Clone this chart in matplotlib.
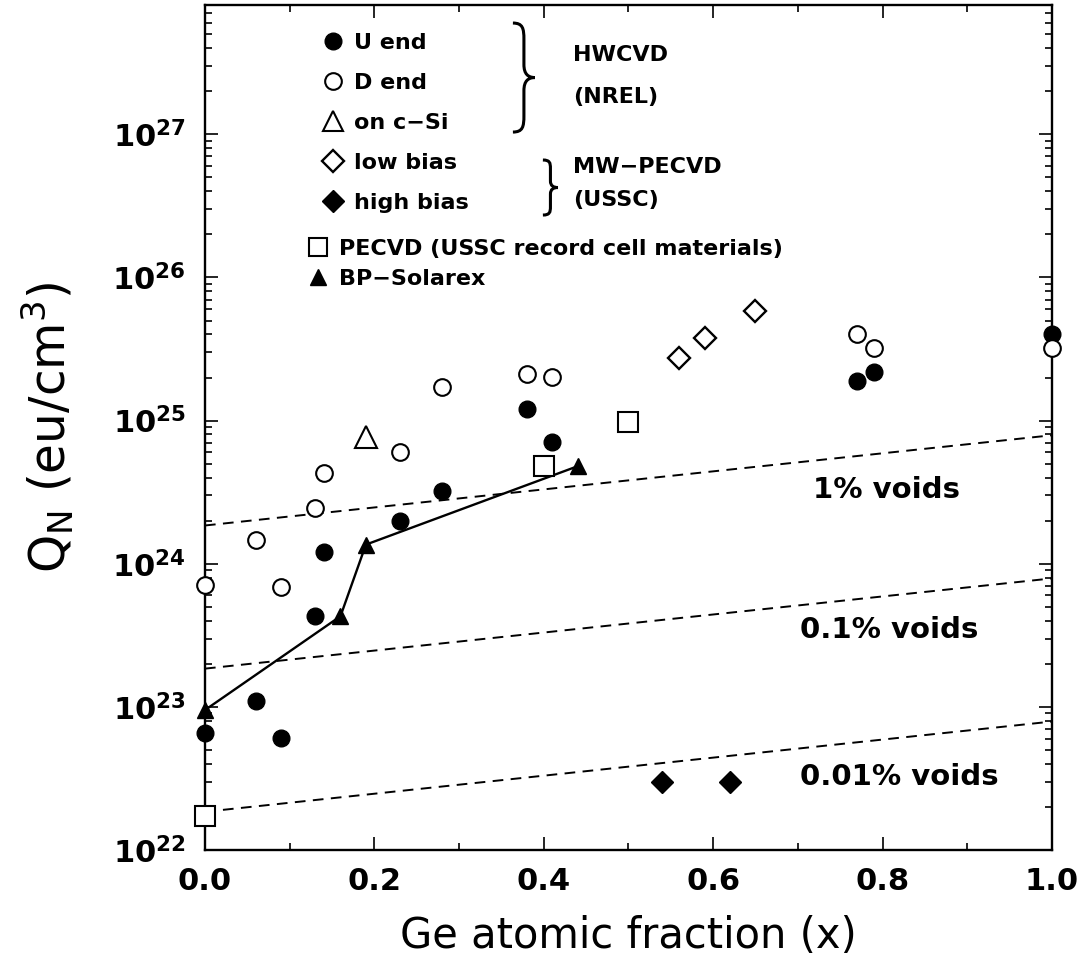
import numpy as np
import matplotlib
matplotlib.use("Agg")
import matplotlib.pyplot as plt
from matplotlib.ticker import LogLocator, MultipleLocator, FormatStrFormatter, NullFormatter
from matplotlib.lines import Line2D
from matplotlib.path import Path
from matplotlib.patches import PathPatch

plt.rcParams['font.family'] = ['DejaVu Sans']

# --- data ---
x_u_end = [0.0, 0.06, 0.09, 0.13, 0.14, 0.23, 0.28, 0.38, 0.41, 0.77, 0.79, 1.0]
q_u_end = [6.6e22, 1.1e23, 6.1e22, 4.3e23, 1.2e24, 2.0e24, 3.2e24, 1.2e25, 7.1e24, 1.9e25, 2.2e25, 4.0e25]

x_d_end = [0.0, 0.06, 0.09, 0.13, 0.14, 0.23, 0.28, 0.38, 0.41, 0.77, 0.79, 1.0]
q_d_end = [7.1e23, 1.47e24, 6.9e23, 2.45e24, 4.3e24, 6.0e24, 1.73e25, 2.13e25, 2.03e25, 4.0e25, 3.2e25, 3.2e25]

x_csi = [0.19]
q_csi = [7.7e24]

x_low_bias = [0.56, 0.59, 0.65]
q_low_bias = [2.75e25, 3.8e25, 5.8e25]

x_high_bias = [0.54, 0.62]
q_high_bias = [3.0e22, 3.0e22]

x_pecvd = [0.0, 0.40, 0.50]
q_pecvd = [1.73e22, 4.8e24, 9.7e24]

x_bp = [0.0, 0.16, 0.19, 0.44]
q_bp = [9.5e22, 4.3e23, 1.36e24, 4.8e24]

x_voids = [0.0, 1.0]
q_voids_1 = [1.85e24, 7.9e24]
q_voids_01 = [1.85e23, 7.9e23]
q_voids_001 = [1.85e22, 7.9e22]


def brace(ax, x0, x1, ytop, ybot, lw=2.2):
    # curly brace pointing right, drawn in axes fraction
    w = x1 - x0
    h = ytop - ybot
    u = [(0, 1), (0.45, 1), (0.5, 0.95), (0.5, 0.85), (0.5, 0.62),
         (0.5, 0.53), (0.7, 0.5), (1, 0.5),
         (0.7, 0.5), (0.5, 0.47), (0.5, 0.38), (0.5, 0.15),
         (0.5, 0.05), (0.45, 0), (0, 0)]
    verts = [(x0 + a * w, ybot + b * h) for a, b in u]
    codes = [Path.MOVETO] + [Path.CURVE4] * 3 + [Path.LINETO] + [Path.CURVE4] * 6 + \
            [Path.LINETO] + [Path.CURVE4] * 3
    ax.add_patch(PathPatch(Path(verts, codes), transform=ax.transAxes,
                           fill=False, lw=lw, color='black', clip_on=False))


fig = plt.figure(figsize=(10.81, 9.72), dpi=100)
ax = fig.add_axes([0.1896, 0.1255, 0.7835, 0.8693])
ax.set_yscale('log')

# void reference lines
for q in (q_voids_1, q_voids_01, q_voids_001):
    ax.plot(x_voids, q, color='black', lw=1.4, ls=(0, (5.5, 3.8)), zorder=1)

# BP-Solarex connected line
ax.plot(x_bp, q_bp, color='black', lw=1.7, zorder=2)

mk = dict(ls='none', clip_on=False, zorder=3)
ax.plot(x_u_end, q_u_end, marker='o', ms=12, mfc='black', mec='black', **mk)
ax.plot(x_d_end, q_d_end, marker='o', ms=12, mfc='white', mec='black', mew=1.5, **mk)
ax.plot(x_csi, q_csi, marker='^', ms=16, mfc='white', mec='black', mew=1.5, **mk)
ax.plot(x_low_bias, q_low_bias, marker='D', ms=11, mfc='white', mec='black', mew=1.7, **mk)
ax.plot(x_high_bias, q_high_bias, marker='D', ms=11, mfc='black', mec='black', **mk)
ax.plot(x_pecvd, q_pecvd, marker='s', ms=14, mfc='white', mec='black', mew=1.5, **mk)
ax.plot(x_bp, q_bp, marker='^', ms=11, mfc='black', mec='black', **mk)

ax.set_xlim(0, 1)
ax.set_ylim(1e22, 8e27)
ax.xaxis.set_major_locator(MultipleLocator(0.2))
ax.xaxis.set_minor_locator(MultipleLocator(0.1))
ax.xaxis.set_major_formatter(FormatStrFormatter('%.1f'))
ax.yaxis.set_major_locator(LogLocator(base=10, numticks=20))
ax.yaxis.set_minor_locator(LogLocator(base=10, subs=np.arange(2, 10), numticks=20))
ax.yaxis.set_minor_formatter(NullFormatter())

ax.tick_params(which='both', direction='in', top=True, right=True, width=1.2, colors='black')
ax.tick_params(which='major', length=9.5)
ax.tick_params(which='minor', length=5)
ax.tick_params(axis='x', which='major', labelsize=22, pad=12)
ax.tick_params(axis='y', which='major', labelsize=22, pad=14)
for lab in ax.get_xticklabels() + ax.get_yticklabels():
    lab.set_fontweight('bold')
for s in ax.spines.values():
    s.set_linewidth(1.7)

ax.set_xlabel('Ge atomic fraction (x)', fontsize=30, labelpad=14)
ax.set_ylabel('Q$_\\mathregular{N}$ (eu/cm$^\\mathregular{3}$)', fontsize=35, labelpad=26)

# legend: HWCVD + MW-PECVD groups
h1 = [
    Line2D([], [], ls='none', marker='o', ms=12, mfc='black', mec='black'),
    Line2D([], [], ls='none', marker='o', ms=12, mfc='white', mec='black', mew=1.5),
    Line2D([], [], ls='none', marker='^', ms=15, mfc='white', mec='black', mew=1.5),
    Line2D([], [], ls='none', marker='D', ms=11, mfc='white', mec='black', mew=1.7),
    Line2D([], [], ls='none', marker='D', ms=11, mfc='black', mec='black'),
]
leg1 = ax.legend(h1, ['U end', 'D end', 'on c\u2212Si', 'low bias', 'high bias'],
                 loc='upper left', bbox_to_anchor=(0.138, 0.9669), borderpad=0,
                 borderaxespad=0, handlelength=1.0, handletextpad=0.45,
                 labelspacing=0.9, prop={'size': 16, 'weight': 'bold'},
                 frameon=False, numpoints=1)
ax.add_artist(leg1)

h2 = [
    Line2D([], [], ls='none', marker='s', ms=13, mfc='white', mec='black', mew=1.5),
    Line2D([], [], ls='none', marker='^', ms=12, mfc='black', mec='black'),
]
ax.legend(h2, ['PECVD (USSC record cell materials)', 'BP\u2212Solarex'],
          loc='upper left', bbox_to_anchor=(0.120, 0.723), borderpad=0,
          borderaxespad=0, handlelength=1.0, handletextpad=0.45,
          labelspacing=0.45, prop={'size': 16, 'weight': 'bold'},
          frameon=False, numpoints=1)

brace(ax, 0.3636, 0.3896, 0.9787, 0.8497)
brace(ax, 0.399, 0.4168, 0.8166, 0.7515)
grp = dict(transform=ax.transAxes, fontsize=16, fontweight='bold', va='center')
ax.text(0.4345, 0.9408, 'HWCVD', **grp)
ax.text(0.4345, 0.8911, '(NREL)', **grp)
ax.text(0.4345, 0.8083, 'MW\u2212PECVD', **grp)
ax.text(0.4345, 0.7692, '(USSC)', **grp)

vd = dict(transform=ax.transAxes, fontsize=21, fontweight='bold', va='center')
ax.text(0.718, 0.426, '1% voids', **vd)
ax.text(0.703, 0.2604, '0.1% voids', **vd)
ax.text(0.703, 0.0864, '0.01% voids', **vd)

fig.savefig('out.png', dpi=100, facecolor='white')
